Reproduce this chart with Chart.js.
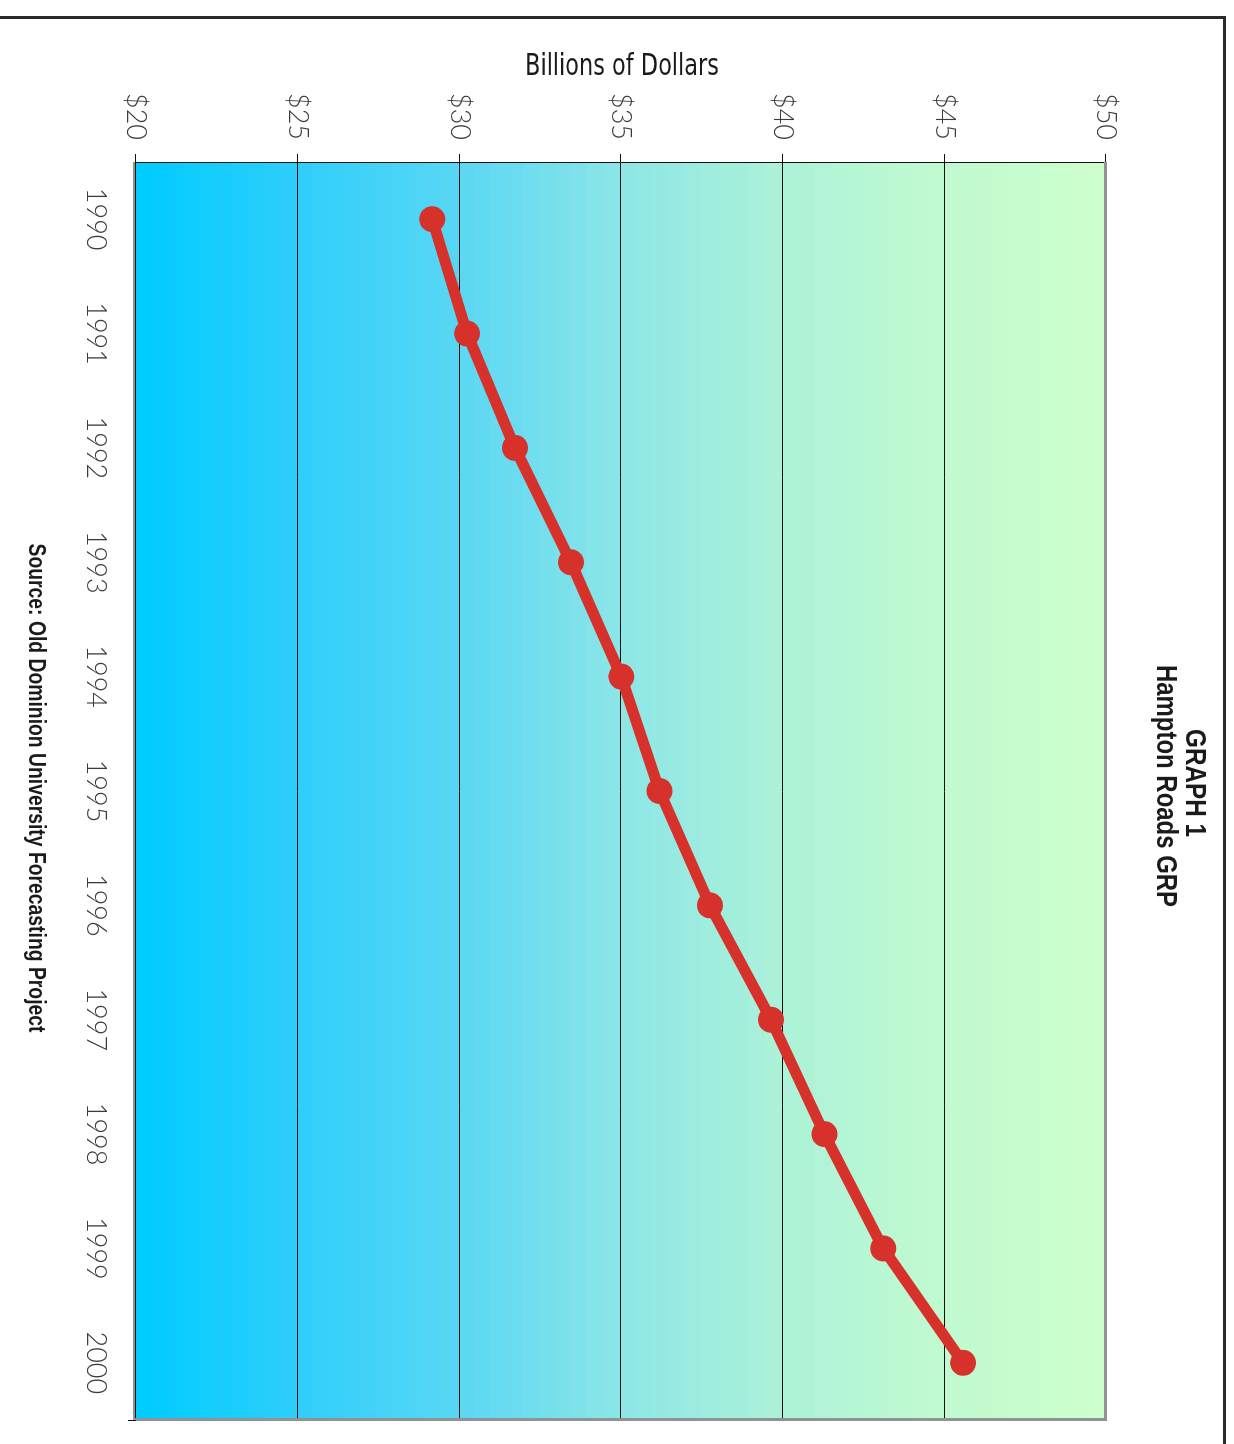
<!DOCTYPE html>
<html>
<head>
<meta charset="utf-8">
<script src="https://cdn.jsdelivr.net/npm/chart.js@4.4.1/dist/chart.umd.min.js"></script>
<style>
  html, body { margin: 0; padding: 0; background: #ffffff; overflow: hidden; }
  /* The chart is laid out landscape and turned a quarter clockwise onto the page */
  #stage {
    position: absolute; left: 0; top: 0;
    width: 1444px; height: 1234px;
    transform-origin: 0 0;
    transform: translate(1234px, 0) rotate(90deg);
  }
  canvas { display: block; }
</style>
</head>
<body>
<div id="stage"><canvas id="grp" width="1444" height="1234"></canvas></div>
<script>
// Hampton Roads gross regional product, billions of dollars
const years = ['1990', '1991', '1992', '1993', '1994', '1995', '1996', '1997', '1998', '1999', '2000'];
const grpBillions = [29.16, 30.24, 31.72, 33.45, 35.01, 36.19, 37.75, 39.64, 41.29, 43.11, 45.58];
const dollarTicks = [20, 25, 30, 35, 40, 45, 50];
const titleLines = ['GRAPH 1', 'Hampton Roads GRP'];
const axisTitle = 'Billions of Dollars';
const sourceNote = 'Source: Old Dominion University Forecasting Project';

const LINE_RED = '#d6312b';
const TICK_FONT = { family: 'Lato, "DejaVu Sans", sans-serif', size: 27, weight: 300 };

// plot background: banded blend from cyan ($20) to pale green ($50)
const bgStops = [
  [0.000, [0, 204, 255]],
  [0.167, [48, 206, 251]],
  [0.333, [90, 215, 244]],
  [0.500, [140, 230, 230]],
  [0.667, [172, 242, 217]],
  [0.833, [192, 250, 208]],
  [1.000, [204, 255, 204]]
];
function bgColor(t) {
  for (let i = 1; i < bgStops.length; i++) {
    if (t <= bgStops[i][0]) {
      const [t0, c0] = bgStops[i - 1], [t1, c1] = bgStops[i];
      const f = (t - t0) / (t1 - t0);
      return 'rgb(' + c0.map((c, k) => Math.round(c + (c1[k] - c) * f)).join(',') + ')';
    }
  }
  return 'rgb(204,255,204)';
}

const plotBackground = {
  id: 'plotBackground',
  beforeDraw(chart) {
    const { ctx, chartArea: a } = chart;
    const bands = 60;
    const h = (a.bottom - a.top) / bands;
    ctx.save();
    for (let i = 0; i < bands; i++) {
      ctx.fillStyle = bgColor(i / (bands - 1));
      const y0 = a.bottom - (i + 1) * h;
      ctx.fillRect(a.left, Math.floor(y0), a.right - a.left, Math.ceil(h) + 1);
    }
    ctx.restore();
  }
};

function fitText(ctx, text, x, y, font, targetW) {
  ctx.font = font;
  const w = ctx.measureText(text).width;
  const s = Math.max(0.6, Math.min(1.2, targetW / w));
  ctx.save();
  ctx.translate(x, y);
  ctx.scale(s, 1);
  ctx.fillText(text, 0, 0);
  ctx.restore();
}

const frameAndText = {
  id: 'frameAndText',
  afterDraw(chart) {
    const { ctx, chartArea: a } = chart;
    ctx.save();
    // shaded plot edges
    ctx.fillStyle = '#8e9396';
    ctx.fillRect(a.left, a.top - 1, a.right - a.left + 1, 3);
    ctx.fillRect(a.right - 2, a.top - 1, 3, a.bottom - a.top + 4);
    ctx.fillRect(a.left, a.bottom, a.right - a.left + 1, 3);
    ctx.strokeStyle = '#111';
    ctx.lineWidth = 1;
    ctx.beginPath();
    ctx.moveTo(a.left, a.bottom + 0.5); ctx.lineTo(a.right - 2, a.bottom + 0.5);
    ctx.moveTo(a.right + 0.5, a.bottom); ctx.lineTo(a.right + 0.5, a.bottom + 8);
    ctx.stroke();

    // outer frame
    ctx.strokeStyle = '#2a2a2a';
    ctx.lineWidth = 3;
    ctx.beginPath();
    ctx.moveTo(17.5, 1240); ctx.lineTo(17.5, 9.5); ctx.lineTo(1450, 9.5);
    ctx.stroke();

    // headings
    ctx.fillStyle = '#1a1a1a';
    ctx.textAlign = 'center';
    ctx.textBaseline = 'alphabetic';
    fitText(ctx, titleLines[0], 783, 48, 'bold 29px "Liberation Sans", Arial, sans-serif', 108);
    fitText(ctx, titleLines[1], 786, 77, 'bold 29px "Liberation Sans", Arial, sans-serif', 242);
    fitText(ctx, sourceNote, 788, 1205, 'bold 23px "Liberation Sans", Arial, sans-serif', 489);

    // value axis title, reading upward
    ctx.save();
    ctx.translate(75, 612);
    ctx.rotate(-Math.PI / 2);
    fitText(ctx, axisTitle, 0, 0, '30px "DejaVu Sans", sans-serif', 194);
    ctx.restore();
    ctx.restore();
  }
};

new Chart(document.getElementById('grp'), {
  type: 'line',
  data: {
    labels: years,
    datasets: [{
      data: grpBillions,
      borderColor: LINE_RED,
      backgroundColor: LINE_RED,
      borderWidth: 11,
      pointRadius: 13,
      pointBackgroundColor: LINE_RED,
      pointBorderWidth: 0,
      pointHoverRadius: 13,
      borderJoinStyle: 'round',
      tension: 0,
      fill: false
    }]
  },
  options: {
    responsive: false,
    animation: false,
    devicePixelRatio: 1,
    layout: { padding: { top: 128, right: 24, bottom: 0, left: 0 } },
    plugins: { legend: { display: false }, title: { display: false }, tooltip: { enabled: false } },
    scales: {
      x: {
        type: 'category',
        offset: true,
        grid: { display: false },
        border: { display: true, color: '#111', width: 1 },
        ticks: { color: '#3c3c3c', font: TICK_FONT, padding: 16, maxRotation: 0, autoSkip: false },
        afterFit(scale) { scale.height = 136; }
      },
      y: {
        min: 20, max: 50,
        grid: { color: '#111', lineWidth: 1, tickLength: 8, drawTicks: true },
        border: { display: true, color: '#111', width: 1 },
        afterBuildTicks(scale) { scale.ticks = dollarTicks.map(v => ({ value: v })); },
        ticks: {
          color: '#3c3c3c', font: TICK_FONT, padding: 14,
          callback: v => '$' + v
        },
        afterFit(scale) { scale.width = 162; }
      }
    }
  },
  plugins: [plotBackground, frameAndText]
});
</script>
</body>
</html>
